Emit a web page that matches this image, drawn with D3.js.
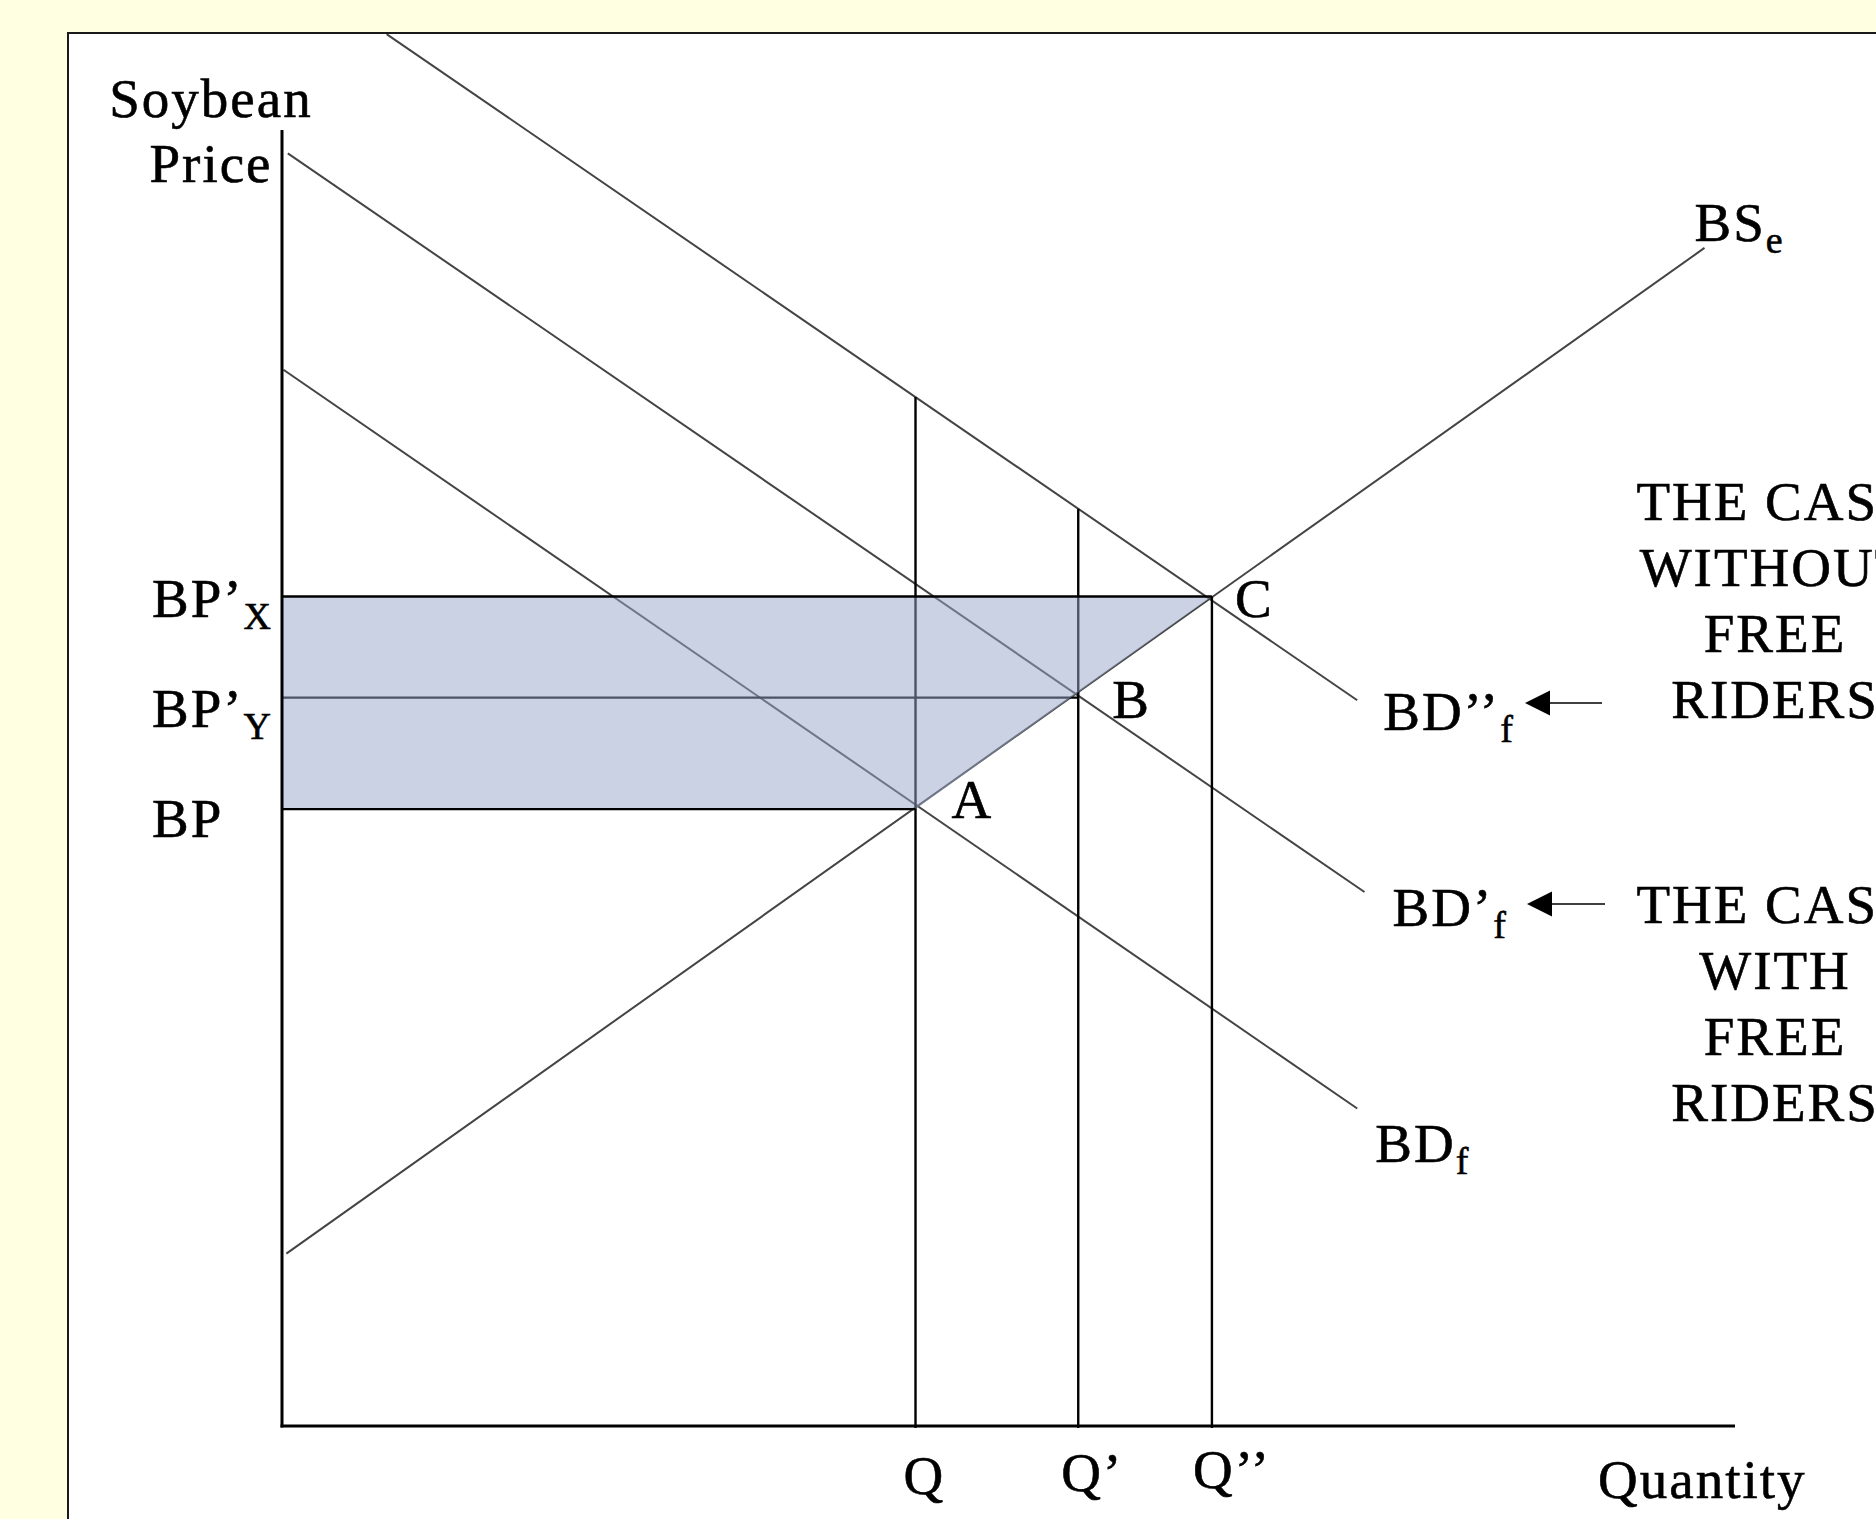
<!DOCTYPE html>
<html><head><meta charset="utf-8">
<script src="https://cdn.jsdelivr.net/npm/d3@7"></script>
<style>
html,body{margin:0;padding:0;background:#FFFFE1;overflow:hidden}
text{font-family:"Liberation Serif","Times New Roman",serif;fill:#000;stroke:#000;stroke-width:0.6px;letter-spacing:2px}
</style>
</head><body>
<svg id="c" width="1876" height="1519"></svg>
<script>
// ---------- data ----------
const quantityLabels = ["Q", "Q\u2019", "Q\u2019\u2019"];
const quantityValues = [43.6, 54.8, 64.0];
const priceLabels = ["BP", "BP\u2019", "BP\u2019"];
const priceSubs = ["", "Y", "X"];
const priceValues = [47.6, 56.2, 64.0];
const pointLabels = ["A", "B", "C"];
const curveNames = ["BD", "BD\u2019", "BD\u2019\u2019", "BS"];
const curveSubs = ["f", "f", "f", "e"];
const bdF = [[0.1, 81.5], [74.0, 24.5]];
const bdF1 = [[0.4, 98.2], [74.5, 41.2]];
const bdF2 = [[7.2, 107.4], [74.0, 56.0]];
const bsE = [[0.3, 13.3], [97.9, 90.9]];
const caseWithout = ["THE CASE", "WITHOUT", "FREE", "RIDERS"];
const caseWith = ["THE CASE", "WITH", "FREE", "RIDERS"];
const axisTitleY = ["Soybean", "Price"];
const axisTitleX = "Quantity";

// ---------- layout ----------
const svg = d3.select("#c");
const x = d3.scaleLinear().domain([0, 100]).range([282, 1735]);
const y = d3.scaleLinear().domain([0, 100]).range([1426, 130]);
const line = d3.line().x(d => x(d[0])).y(d => y(d[1]));
const FS = 55, SUB = 38;

// frame
svg.append("rect").attr("x", 68).attr("y", 33).attr("width", 1900).attr("height", 1600)
  .attr("fill", "#fff").attr("stroke", "#1a1a1a").attr("stroke-width", 2);

// clip to frame
svg.append("clipPath").attr("id", "fr").append("rect")
  .attr("x", 69).attr("y", 34).attr("width", 1900).attr("height", 1600);
const g = svg.append("g").attr("clip-path", "url(#fr)");

// curves
const curves = [bdF, bdF1, bdF2, bsE];
g.selectAll("path.curve").data(curves).join("path").attr("class", "curve")
  .attr("d", line).attr("fill", "none").attr("stroke", "#444").attr("stroke-width", 2);

// helper: value of a straight curve at a quantity
function onLine(seg, q) {
  const [a, b] = seg;
  return a[1] + (b[1] - a[1]) * (q - a[0]) / (b[0] - a[0]);
}

// vertical quantity lines (from BD''f down to axis)
quantityValues.forEach((q, i) => {
  const top = Math.max(onLine(bdF2, q), priceValues[i]);
  g.append("line").attr("x1", x(q)).attr("x2", x(q))
    .attr("y1", y(top)).attr("y2", y(0) + 2)
    .attr("stroke", "#000").attr("stroke-width", 2.4);
});

// middle horizontal price line (BP'Y)
g.append("line").attr("x1", x(0)).attr("x2", x(quantityValues[1]))
  .attr("y1", y(priceValues[1])).attr("y2", y(priceValues[1]))
  .attr("stroke", "#000").attr("stroke-width", 2.4);

// shaded area (semi-transparent, over the lines)
const shade = [[0, priceValues[2]], [quantityValues[2], priceValues[2]],
               [quantityValues[0], priceValues[0]], [0, priceValues[0]]];
g.append("path").attr("d", line(shade) + "Z")
  .attr("fill", "rgb(150,166,202)").attr("fill-opacity", 0.5);

// top and bottom price lines
[0, 2].forEach(i => {
  g.append("line").attr("x1", x(0)).attr("x2", x(quantityValues[i]))
    .attr("y1", y(priceValues[i])).attr("y2", y(priceValues[i]))
    .attr("stroke", "#000").attr("stroke-width", 2.4);
});

// axes
g.append("line").attr("x1", x(0)).attr("x2", x(0)).attr("y1", y(100)).attr("y2", y(0) + 1.5)
  .attr("stroke", "#000").attr("stroke-width", 3);
g.append("line").attr("x1", x(0) - 1.5).attr("x2", x(100)).attr("y1", y(0)).attr("y2", y(0))
  .attr("stroke", "#000").attr("stroke-width", 3);

// ---------- text ----------
function label(px, py, main, sub, anchor) {
  const t = svg.append("text").attr("x", px).attr("y", py)
    .attr("font-size", FS).attr("text-anchor", anchor || "start");
  t.append("tspan").text(main);
  if (sub) t.append("tspan").attr("dy", 12).attr("font-size", SUB).text(sub);
  return t;
}

// y axis title
label(211, 117, axisTitleY[0], "", "middle");
label(211, 182, axisTitleY[1], "", "middle");
// x axis title
label(1598, 1498, axisTitleX, "");

// price labels
const pOff = [28, 29, 20];
priceValues.forEach((p, i) => label(152, y(p) + pOff[i], priceLabels[i], priceSubs[i]));

// quantity labels
const qOff = [-12, -17, -19];
const qBase = [1494, 1491, 1488];
quantityValues.forEach((q, i) => label(x(q) + qOff[i], qBase[i], quantityLabels[i], ""));

// point labels A, B, C
const ptOff = [[36, 9], [34, 20], [23, 20]];
pointLabels.forEach((l, i) =>
  label(x(quantityValues[i]) + ptOff[i][0], y(priceValues[i]) + ptOff[i][1], l, ""));

// curve labels, positioned from curve end points
const cOff = [[18, 54], [28, 34], [26, 30], [-10, -7]];
curves.forEach((c, i) => {
  const e = c[1];
  label(x(e[0]) + cOff[i][0], y(e[1]) + cOff[i][1], curveNames[i], curveSubs[i]);
});

// case text blocks (cut by the window edge, as in the original)
function block(lines, cx, y0) {
  lines.forEach((s, i) => label(cx, y0 + i * 66, s, "", "middle"));
}
block(caseWithout, 1775, 520);
block(caseWith, 1775, 923);

// arrows
function arrow(x1, x2, yy) {
  svg.append("line").attr("x1", x1).attr("x2", x2 + 20).attr("y1", yy).attr("y2", yy)
    .attr("stroke", "#000").attr("stroke-width", 1.6);
  svg.append("path").attr("d", `M${x2},${yy} L${x2 + 25},${yy - 12.5} L${x2 + 25},${yy + 12.5} Z`)
    .attr("fill", "#000");
}
arrow(1602, 1525, 703);
arrow(1605, 1527, 904);
</script>
</body></html>
